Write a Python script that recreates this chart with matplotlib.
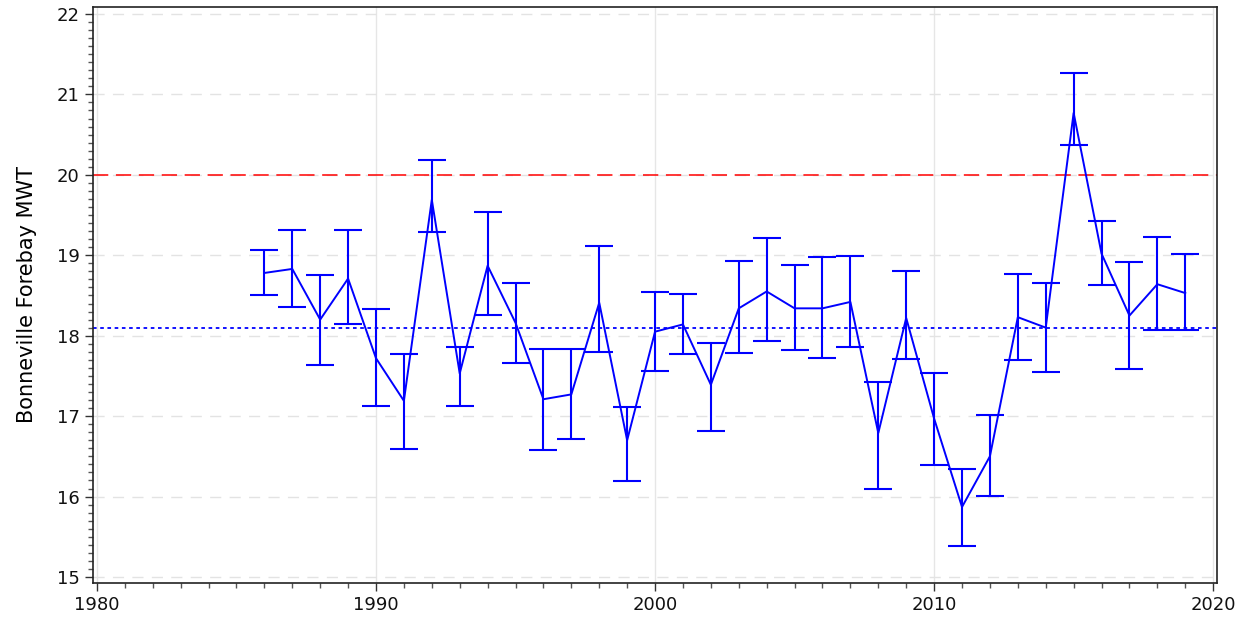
import matplotlib.pyplot as plt
from matplotlib.ticker import MultipleLocator
import numpy as np

years = list(range(1986, 2020))
mean_mwt = [18.78, 18.83, 18.20, 18.71, 17.72, 17.19, 19.69, 17.53, 18.87, 18.16,
            17.21, 17.27, 18.41, 16.70, 18.05, 18.14, 17.39, 18.34, 18.55, 18.34,
            18.34, 18.42, 16.79, 18.22, 16.97, 15.87, 16.50, 18.23, 18.10, 20.77,
            19.02, 18.25, 18.64, 18.53]
upper_mwt = [19.06, 19.31, 18.76, 19.31, 18.33, 17.77, 20.19, 17.86, 19.54, 18.66,
             17.83, 17.84, 19.12, 17.11, 18.54, 18.52, 17.91, 18.93, 19.21, 18.88,
             18.98, 18.99, 17.42, 18.81, 17.53, 16.34, 17.01, 18.77, 18.66, 21.26,
             19.43, 18.92, 19.23, 19.01]
lower_mwt = [18.51, 18.36, 17.64, 18.15, 17.12, 16.59, 19.29, 17.13, 18.26, 17.66,
             16.58, 16.72, 17.80, 16.19, 17.56, 17.77, 16.82, 17.78, 17.93, 17.82,
             17.72, 17.86, 16.10, 17.71, 16.39, 15.38, 16.01, 17.70, 17.55, 20.37,
             18.63, 17.59, 18.07, 18.07]
criterion = 20.0
overall_mean = 18.09

mean_arr = np.array(mean_mwt)
yerr = [mean_arr - np.array(lower_mwt), np.array(upper_mwt) - mean_arr]

fig = plt.figure(figsize=(12.47, 6.23), dpi=100)
ax = fig.add_axes([0.0746, 0.0642, 0.9014, 0.9246])

ax.errorbar(years, mean_mwt, yerr=yerr, color='#0000ff', lw=1.4, elinewidth=1.5,
            capsize=10, capthick=1.5, zorder=3)
ax.axhline(criterion, color='#ff0000', lw=1.1, dashes=(10, 5), zorder=2)
ax.axhline(overall_mean, color='#0000ff', lw=1.3, dashes=(2, 2), zorder=2)

ax.set_xlim(1979.86, 2020.14)
ax.set_ylim(14.925, 22.087)
ax.xaxis.set_major_locator(MultipleLocator(10))
ax.xaxis.set_minor_locator(MultipleLocator(1))
ax.yaxis.set_major_locator(MultipleLocator(1))
ax.yaxis.set_minor_locator(MultipleLocator(0.1))

ax.grid(axis='x', which='major', color='#e6e6e6', lw=1.0, zorder=0)
ax.grid(axis='y', which='major', color='#e3e3e3', lw=1.0, dashes=(8, 6), zorder=0)
ax.set_axisbelow(True)

ax.tick_params(axis='both', which='major', labelsize=13, length=6, width=1,
               color='#333333', labelcolor='#111111')
ax.tick_params(axis='both', which='minor', length=3.5, width=1, color='#555555')
for s in ax.spines.values():
    s.set_color('#222222')
    s.set_linewidth(1.2)

ax.set_ylabel('Bonneville Forebay MWT', fontsize=15, labelpad=14)

fig.savefig('out.png', dpi=100)
